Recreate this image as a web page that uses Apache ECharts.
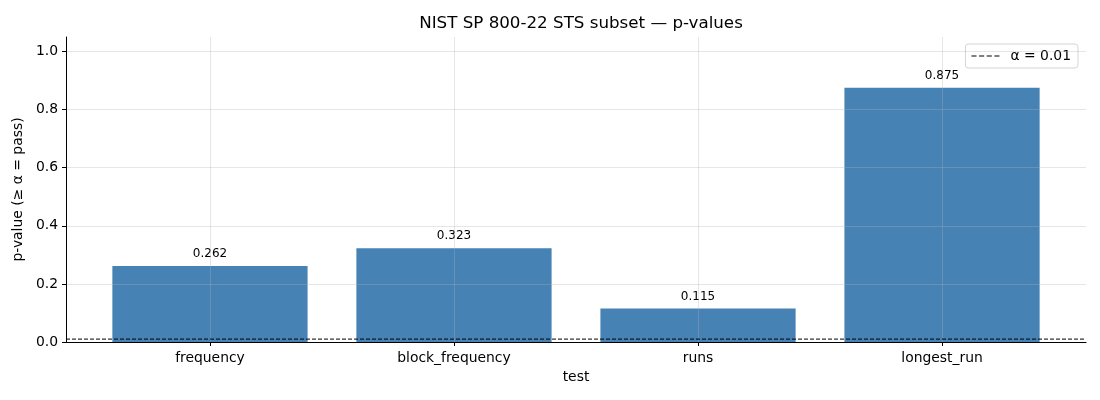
<!DOCTYPE html>
<html>
<head>
<meta charset="utf-8">
<script src="https://cdn.jsdelivr.net/npm/echarts@6/dist/echarts.min.js"></script>
<style>html,body{margin:0;padding:0;background:#fff}#c{width:1100px;height:400px}</style>
</head>
<body>
<div id="c"></div>
<script>
const categories = ['frequency', 'block_frequency', 'runs', 'longest_run'];
const pValues = [0.262, 0.323, 0.115, 0.875];
const alpha = 0.01;
const yTickValues = [0, 0.2, 0.4, 0.6, 0.8, 1.0];

const xMin = -0.59, xMax = categories.length - 1 + 0.59;
const gridLeft = 66, gridRight = 14;
const plotW = 1100 - gridLeft - gridRight;
const barW = plotW / (xMax - xMin) * 0.8;
const idx = categories.map((_, i) => i);
const font = 'DejaVu Sans';
const gridColor = 'rgba(176,176,176,0.32)';

const chart = echarts.init(document.getElementById('c'), null, {renderer: 'canvas'});
chart.setOption({
  animation: false,
  backgroundColor: '#fff',
  textStyle: {fontFamily: font},
  title: {
    text: 'NIST SP 800-22 STS subset — p-values',
    left: 576, top: 10, textAlign: 'center',
    textStyle: {fontFamily: font, fontSize: 16.7, fontWeight: 'normal', color: '#000'}
  },
  legend: {
    data: [{name: 'α = 0.01', icon: 'path://M0,0h5v1h-5zM7.5,0h5v1h-5zM15,0h5v1h-5zM22.5,0h5v1h-5z'}],
    right: 22, top: 44,
    padding: [5, 7, 5, 6],
    itemWidth: 28, itemHeight: 1.6, itemGap: 8,
    borderColor: '#d5d5d5', borderWidth: 1, borderRadius: 3,
    backgroundColor: 'rgba(255,255,255,0.8)',
    itemStyle: {color: '#000'},
    textStyle: {fontFamily: font, fontSize: 13.9, color: '#000', padding: [0, 0, 0, 6]}
  },
  grid: {left: gridLeft, right: gridRight, top: 37, bottom: 58},
  xAxis: {
    type: 'value', min: xMin, max: xMax, z: 5,
    name: 'test', nameLocation: 'middle', nameGap: 28,
    nameTextStyle: {fontFamily: font, fontSize: 13.9, color: '#000'},
    axisLine: {show: true, onZero: false, lineStyle: {color: '#000', width: 1}},
    axisTick: {show: true, customValues: idx, length: 4, lineStyle: {color: '#000'}},
    axisLabel: {customValues: idx, margin: 9, fontFamily: font, fontSize: 13.9, color: '#000',
      formatter: v => categories[Math.round(v)]},
    splitLine: {show: false}
  },
  yAxis: {
    type: 'value', min: 0, max: 1.05, interval: 0.2, z: 5,
    name: 'p-value (≥ α = pass)', nameLocation: 'middle', nameGap: 36,
    nameTextStyle: {fontFamily: font, fontSize: 13.9, color: '#000'},
    axisLine: {show: true, onZero: false, lineStyle: {color: '#000', width: 1}},
    axisTick: {show: true, customValues: yTickValues, length: 4, lineStyle: {color: '#000'}},
    axisLabel: {customValues: yTickValues, margin: 8, fontFamily: font, fontSize: 13.9, color: '#000',
      formatter: v => v.toFixed(1)},
    splitLine: {show: true, lineStyle: {color: gridColor, width: 1}}
  },
  series: [
    {
      type: 'bar', name: 'p-value', z: 2,
      data: pValues.map((v, i) => [i, v]),
      barWidth: barW,
      itemStyle: {color: '#4682b4'},
      label: {show: true, position: 'top', distance: 6, fontFamily: font, fontSize: 12, color: '#000',
        formatter: p => p.value[1].toFixed(3)},
      markLine: {
        silent: true, symbol: 'none', label: {show: false}, z: 3,
        lineStyle: {color: gridColor, type: 'solid', width: 1},
        data: idx.map(i => ({xAxis: i}))
      }
    },
    {
      type: 'line', name: 'α = 0.01', z: 6,
      data: [[xMin, alpha], [xMax, alpha]],
      symbol: 'none', showSymbol: false,
      lineStyle: {color: '#000', width: 1, type: [4, 2]},
      itemStyle: {color: '#000'}
    }
  ]
});
</script>
</body>
</html>
